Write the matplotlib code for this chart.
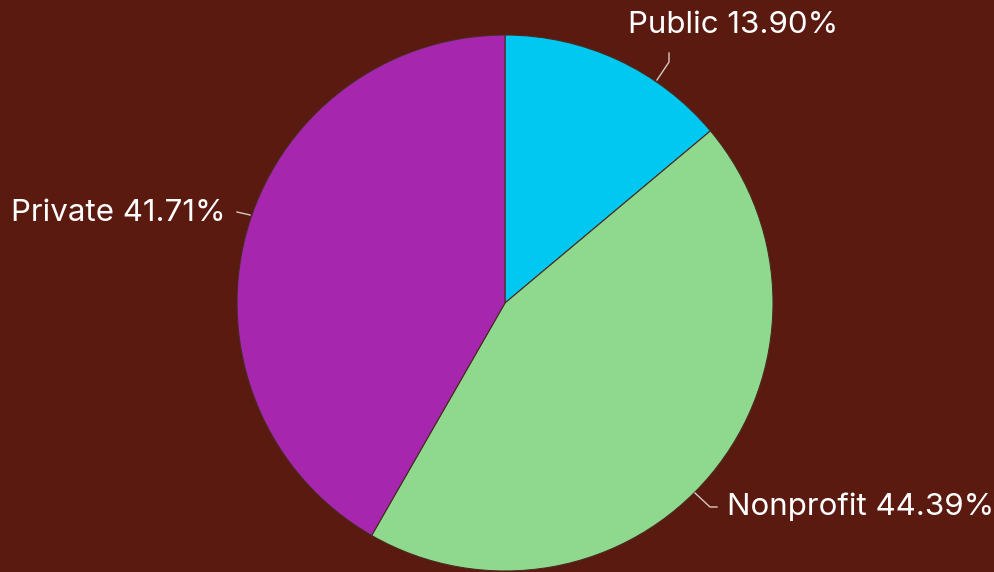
import numpy as np
import matplotlib.pyplot as plt

labels = ['Public', 'Nonprofit', 'Private']
shares = [13.90, 44.39, 41.71]
colors = ['#00c8f0', '#8fd98f', '#a626ae']
bg = '#5a1a10'

W, H = 995, 572
cx, cy, r = 505, 303, 268

fig = plt.figure(figsize=(W / 100, H / 100), dpi=100, facecolor=bg)
ax = fig.add_axes([(cx - r) / W, (H - cy - r) / H, 2 * r / W, 2 * r / H])
ax.set_facecolor(bg)

ax.pie(shares, colors=colors, startangle=90, counterclock=False, radius=1,
       wedgeprops=dict(edgecolor='#4a2a20', linewidth=0.8))
ax.set_xlim(-1, 1)
ax.set_ylim(-1, 1)
ax.set_aspect('equal')
ax.axis('off')


def d(px, py):
    # pixel position -> data coords of the pie axes
    return (px - cx) / r, (cy - py) / r


# leader lines and label anchors (layout only)
guides = {
    'Public': ([(657, 80), (669, 62), (669, 53)], (628, 25), 'left'),
    'Nonprofit': ([(695, 493), (710, 507), (717, 507)], (727, 507), 'left'),
    'Private': ([(250, 215), (237, 212)], (226, 213), 'right'),
}

for name, val in zip(labels, shares):
    pts, tpos, ha = guides[name]
    xs, ys = zip(*[d(*p) for p in pts])
    ax.plot(xs, ys, color='#d8c8c0', lw=1, clip_on=False)
    tx, ty = d(*tpos)
    ax.text(tx, ty, f'{name} {val:.2f}%', color='white', fontsize=22.5,
            family=['Inter', 'DejaVu Sans'], ha=ha, va='center', clip_on=False)

fig.savefig('out.png', facecolor=bg)
